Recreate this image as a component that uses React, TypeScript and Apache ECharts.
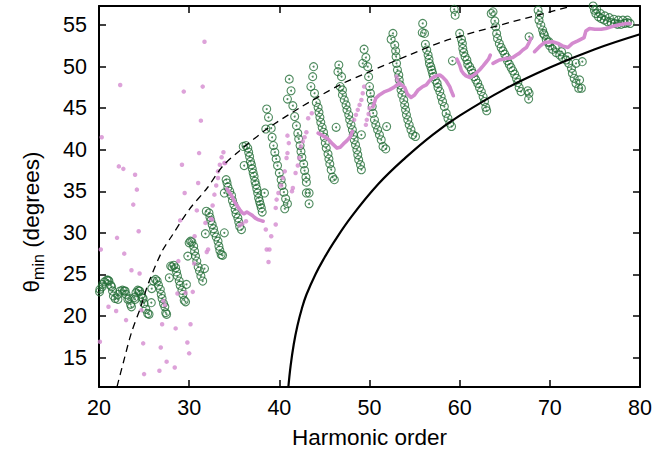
import { useEffect, useRef } from "react";
import * as echarts from "echarts";

const xTicks = [20, 30, 40, 50, 60, 70, 80];
const yTicks = [15, 20, 25, 30, 35, 40, 45, 50, 55];

// Green circles (strands)
const greenWave = [[20.06,22.9],[20.35,23.5],[20.6,24.1],[20.87,24.3],[21.1,24.2],[21.3,23.7],[21.5,23.0],[21.6,22.4],[21.8,22.1],[22.1,22.6],[22.35,23.0],[22.6,23.1],[22.8,23.0],[23.0,22.6],[23.2,22.0],[23.5,21.4],[23.6,21.1],[23.9,22.2],[24.1,22.8],[24.3,23.1],[24.5,23.0],[24.7,22.6],[24.9,22.1],[25.0,21.5],[25.2,20.8],[25.4,20.3],[20.1,23.2],[20.4,23.8],[21.0,24.3],[21.4,23.5],[22.1,22.0],[22.9,23.0],[23.35,22.1],[24.0,22.0],[24.45,23.0],[24.8,22.2],[25.55,20.2],[25.8,21.6]];
const greenS2 = [[25.85,23.3],[26.04,24.2],[26.27,24.4],[26.45,24.2],[26.6,23.7],[26.8,23.2],[26.9,22.6],[27.0,22.1],[27.15,21.5],[27.3,21.1],[27.4,20.4],[27.5,20.2],[27.8,24.6]];
const greenS3 = [[27.95,26.0],[28.1,25.9],[28.3,26.1],[28.5,25.8],[28.6,25.3],[28.7,24.8],[28.9,24.2],[29.0,23.7],[29.2,23.1],[29.3,22.6],[29.45,21.9],[29.6,21.7],[29.7,23.8]];
const greenS4 = [[29.85,27.2],[30.0,28.8],[30.15,29.0],[30.3,28.9],[30.5,28.4],[30.6,27.8],[30.7,27.2],[30.85,26.6],[31.0,25.9],[31.15,25.4],[31.3,24.8],[31.5,24.2],[31.7,25.7]];
const greenS5 = [[31.9,32.6],[32.2,32.4],[32.3,31.9],[32.4,31.5],[32.55,31.0],[32.7,30.5],[32.8,30.0],[33.0,29.5],[33.2,29.0],[33.3,28.4],[33.4,27.9],[33.55,27.4],[33.7,27.3],[31.8,29.9],[33.9,30.0]];
const greenS6 = [[34.1,36.4],[34.2,36.0],[34.3,35.5],[34.5,35.0],[34.7,34.5],[34.8,33.9],[34.95,33.4],[35.1,32.8],[35.2,32.3],[35.4,31.8],[35.5,31.3],[35.6,30.8],[35.8,30.4],[33.9,34.8]];
const greenS7 = [[36.0,40.4],[36.3,40.5],[36.5,40.2],[36.6,39.7],[36.7,39.2],[36.8,38.6],[36.9,38.2],[37.0,37.7],[37.1,37.2],[37.2,36.8],[37.3,36.2],[37.4,35.8],[37.5,35.3],[37.6,34.8],[37.7,34.2],[37.8,33.8],[37.9,33.4],[38.0,33.0],[38.1,32.5],[36.1,38.1],[38.35,34.8]];
const greenS8 = [[38.6,44.9],[38.8,43.9],[38.5,42.5],[39.1,42.6],[39.2,41.5],[39.35,40.5],[39.5,39.7],[39.65,38.9],[39.8,38.1],[40.0,37.2],[40.2,36.4],[40.3,35.7],[40.5,34.9],[40.7,34.1],[40.9,33.5],[40.6,32.9]];
const greenS9 = [[41.1,48.5],[41.3,47.1],[40.9,46.1],[41.5,45.3],[41.7,44.0],[41.9,42.9],[42.05,42.0],[42.15,41.3],[42.3,40.5],[42.4,39.8],[42.5,39.1],[42.7,38.3],[42.8,37.5],[42.95,36.7],[43.0,36.1],[43.0,34.8],[43.3,34.8],[43.3,33.5]];
const greenS10 = [[43.8,50.0],[43.7,48.8],[43.5,47.6],[43.9,46.8],[44.1,45.7],[44.3,45.1],[44.4,44.5],[44.5,43.9],[44.6,43.3],[44.75,42.7],[44.9,42.1],[45.0,41.5],[45.1,40.8],[45.2,40.2],[45.4,39.5],[45.5,38.9],[45.6,38.3],[45.75,37.6],[45.9,36.7],[46.1,36.4]];
const greenS11 = [[46.6,50.2],[46.5,49.4],[46.9,48.8],[46.75,47.6],[47.0,47.2],[47.0,46.6],[47.2,46.0],[47.4,45.4],[47.5,44.8],[47.7,44.2],[47.8,43.6],[47.95,43.0],[48.1,42.4],[48.2,41.8],[48.3,41.2],[48.45,40.6],[48.6,40.0],[48.7,39.4],[48.8,38.8],[49.0,38.2],[49.1,37.6],[46.3,42.7],[49.1,41.8]];
const greenS12 = [[49.4,52.1],[49.6,51.1],[49.25,50.4],[49.8,50.0],[49.9,48.8],[50.0,47.6],[50.1,46.8],[50.2,46.0],[50.3,45.2],[50.4,44.4],[50.55,43.6],[50.7,43.0],[50.9,42.4],[51.1,41.8],[51.3,41.2],[51.5,40.4],[51.8,40.1]];
const greenS13 = [[52.6,54.0],[52.4,53.3],[52.8,52.6],[52.9,51.9],[52.95,51.2],[53.0,50.4],[53.1,49.6],[53.25,49.0],[53.3,48.4],[53.4,47.8],[53.5,47.2],[53.6,46.6],[53.8,46.0],[53.9,45.4],[54.0,44.8],[54.1,44.2],[54.25,43.6],[54.4,43.0],[54.6,42.4],[54.8,41.8],[55.1,41.6],[51.9,42.8]];
const greenS14 = [[55.9,55.2],[55.85,54.1],[56.1,54.0],[56.2,52.7],[56.35,52.0],[56.5,51.4],[56.6,50.9],[56.65,50.4],[56.8,50.0],[56.9,49.6],[57.0,49.2],[57.1,48.8],[57.3,48.4],[57.5,48.0],[57.6,47.5],[57.8,47.0],[57.95,46.4],[58.1,45.8],[58.3,45.2],[58.5,44.4],[58.7,43.8],[58.9,43.2],[59.1,42.8]];
const greenS15 = [[59.4,56.9],[59.5,56.2],[60.0,54.0],[60.2,53.3],[60.3,52.8],[60.35,52.2],[60.45,51.7],[60.6,51.2],[60.8,50.8],[60.9,50.3],[61.1,50.0],[61.3,49.6],[61.45,49.2],[61.6,48.8],[61.8,48.4],[62.0,48.0],[62.2,47.5],[62.4,47.0],[62.6,46.4],[62.75,45.8],[62.9,45.1],[63.0,44.7],[59.2,50.7]];
const greenS16 = [[63.7,56.6],[63.5,56.4],[63.9,55.5],[64.0,54.8],[64.1,54.0],[64.2,53.4],[64.4,52.8],[64.6,52.3],[64.8,51.9],[65.0,51.5],[65.2,51.1],[65.3,50.7],[65.5,50.3],[65.7,49.9],[65.9,49.5],[66.1,49.1],[66.3,48.6],[66.45,48.1],[66.6,47.5],[66.8,47.0],[67.55,47.1],[67.7,46.8],[67.65,46.1],[67.7,53.6]];
const greenS17 = [[68.7,56.8],[68.85,56.2],[68.8,55.6],[69.0,55.0],[69.2,54.4],[69.4,53.8],[69.6,53.3],[69.8,52.9],[70.0,52.5],[70.3,52.1],[70.7,51.7],[71.1,51.4],[71.4,51.1],[71.8,50.8],[72.1,50.4],[72.4,49.8],[72.5,49.2],[72.7,48.6],[72.9,48.0],[73.3,48.4],[73.2,47.4],[73.5,47.4],[73.6,50.6],[72.9,50.4],[69.3,54.0],[69.9,53.0],[70.6,52.3],[71.3,51.8],[72.0,51.2]];
const greenS18 = [[74.8,57.3],[74.95,56.8],[75.1,56.4],[75.4,56.0],[75.7,55.8],[76.05,55.6],[76.4,55.4],[76.8,55.3],[77.2,55.2],[77.5,55.1],[77.9,55.1],[78.3,55.2],[78.6,55.3],[78.9,55.2],[75.2,56.9],[75.6,56.4],[76.1,56.1],[76.6,55.9],[77.1,55.7],[77.6,55.6],[78.1,55.6],[78.6,55.6]];

// Pink scattered dots
const pinkScatter = [[31.7,53.0],[22.35,47.8],[29.4,47.0],[31.5,47.6],[31.3,43.5],[20.3,41.5],[22.2,38.0],[22.7,37.7],[24.0,37.0],[24.2,35.2],[23.8,33.4],[24.4,30.2],[22.0,29.4],[22.8,27.5],[20.2,28.0],[29.2,38.2],[29.5,34.8],[29.0,31.5],[31.1,39.6],[31.0,36.0],[30.85,32.7],[30.6,29.6],[32.1,28.0],[31.95,27.7],[33.8,39.7],[33.6,39.1],[33.9,38.4],[33.4,38.2],[33.2,36.6],[33.0,35.7],[32.8,34.6],[32.6,33.3],[31.8,31.2],[32.4,31.7],[34.0,38.4],[33.2,37.4],[32.55,31.6],[23.6,25.5],[24.5,25.1],[21.05,21.1],[21.9,20.6],[23.0,19.5],[24.7,20.7],[20.1,16.9],[24.9,16.7],[25.0,13.0],[26.7,13.4],[27.5,14.5],[28.4,13.8],[26.85,16.2],[27.0,19.0],[28.5,18.5],[29.8,16.8],[30.0,15.5],[30.15,19.0],[28.8,26.6],[27.15,21.8],[27.3,21.3],[28.7,22.7],[29.6,22.8],[30.4,22.9],[30.55,26.3],[35.6,30.9],[35.9,31.1],[36.3,31.4],[38.6,28.0],[38.9,28.0],[38.8,26.5],[38.5,30.4],[39.1,29.6],[39.6,31.0],[39.6,33.0],[39.7,34.0],[39.9,34.8],[40.2,35.7],[40.4,36.6],[40.6,37.4],[40.8,39.0],[40.9,39.6],[41.05,40.8],[40.9,41.7],[41.4,35.0],[41.5,35.4],[41.8,37.2],[42.05,38.1],[42.2,39.0],[42.4,40.4],[42.6,41.0],[42.8,41.5],[43.0,42.1],[43.6,44.4],[43.2,43.8],[48.3,43.6],[48.5,44.2],[48.7,44.8],[48.9,45.4],[49.1,46.0],[49.25,46.8],[49.4,47.6],[49.6,43.0],[49.7,43.6],[49.9,44.3],[50.0,45.0],[53.0,48.8],[53.1,48.4]];

// Pink dense segments
const pinkSeg1 = [[34.2,35.3],[34.5,34.8],[34.8,34.3],[35.0,33.8],[35.3,33.3],[35.6,32.8],[35.9,32.4],[36.1,32.3],[36.4,32.5],[36.7,32.3],[37.0,32.1],[37.3,31.8],[37.6,31.6],[37.9,31.5],[38.2,31.4]];
const pinkSeg2 = [[44.3,42.0],[44.8,41.7],[45.4,41.3],[45.9,40.7],[46.4,40.2],[46.75,40.3],[47.1,40.7],[47.5,41.1],[47.9,41.6],[48.1,42.2]];
const pinkSeg3 = [[50.4,45.2],[50.7,46.2],[51.1,46.6],[51.7,47.0],[52.2,47.2],[52.7,47.5],[53.3,48.0],[53.9,47.5],[54.2,46.7],[54.6,46.3],[55.0,46.6],[55.4,47.2],[55.9,47.6],[56.3,47.8],[56.65,48.3],[57.0,48.65],[57.4,48.9],[57.8,49.0],[58.1,48.75],[58.5,48.3],[58.9,47.6],[59.1,47.0],[59.3,46.5]];
const pinkSeg4 = [[59.7,50.9],[60.0,50.2],[60.2,49.5],[60.4,49.2],[60.7,48.9],[61.1,48.7],[61.45,48.9],[61.8,49.2],[62.2,49.6],[62.6,50.1],[62.9,50.5],[63.2,50.9],[63.4,51.4]];
const pinkSeg5 = [[63.7,50.4],[64.05,50.6],[64.4,50.8],[64.8,50.9],[65.2,51.0],[65.5,51.0],[65.9,51.1],[66.3,51.4],[66.6,51.6],[67.0,52.0],[67.4,52.3],[67.7,52.9],[67.9,53.4]];
const pinkSeg6 = [[68.3,51.8],[68.85,52.4],[69.4,52.9],[70.3,53.0],[70.9,52.8],[71.4,52.5],[72.0,52.3],[72.5,52.8],[73.1,53.1],[73.8,53.5],[74.0,54.3],[74.4,54.6],[75.0,54.5],[75.7,54.5],[76.2,54.6],[77.0,54.85],[77.7,55.05],[78.5,55.2],[78.9,55.2]];

// Theory curves
const dashedCurve = [[22.0,11.5],[22.7,14.4],[23.6,18.0],[24.6,21.0],[25.5,24.0],[27.0,27.8],[28.0,29.5],[30.0,32.8],[32.0,35.4],[33.7,38.0],[35.5,39.8],[38.5,42.4],[42.2,45.0],[46.7,47.8],[50.0,49.4],[54.4,51.4],[58.1,53.0],[61.8,54.2],[65.5,55.3],[69.0,56.3],[72.5,57.3]];
const solidCurve = [[41.0,11.45],[41.25,14.0],[41.6,16.6],[42.0,18.8],[42.5,20.9],[43.0,22.55],[44.0,25.0],[45.0,27.0],[46.0,28.8],[48.0,31.95],[51.0,35.9],[54.0,39.05],[57.0,41.8],[60.0,44.1],[65.0,47.3],[70.0,49.9],[75.0,52.1],[80.0,53.9]];

const greenPoints = [...greenWave, ...greenS2, ...greenS3, ...greenS4, ...greenS5, ...greenS6, ...greenS7, ...greenS8, ...greenS9, ...greenS10, ...greenS11, ...greenS12, ...greenS13, ...greenS14, ...greenS15, ...greenS16, ...greenS17, ...greenS18];
const pinkSegments = [pinkSeg1, pinkSeg2, pinkSeg3, pinkSeg4, pinkSeg5, pinkSeg6];

const GREEN = "#236e37";
const PINK = "#d48bcf";
const FONT = "Liberation Sans";
const FS = 21.5;
const FS_NAME = 22.5;

export default function App() {
  const ref = useRef<HTMLDivElement>(null);
  useEffect(() => {
    const chart = echarts.init(ref.current!, null, { renderer: "svg" });
    const axisLine = { show: true, onZero: false, lineStyle: { color: "#000", width: 2 } };
    const tick = { show: true, inside: true, length: 7, lineStyle: { color: "#000", width: 1.5 } };
    const yMin = 11.45, yMax = 57.3;
    chart.setOption({
      animation: false,
      backgroundColor: "#fff",
      grid: { left: 99, right: 16, top: 6, bottom: 72, containLabel: false },
      xAxis: [
        {
          type: "value", position: "bottom", min: 20, max: 80, interval: 10,
          axisLine, axisTick: tick, splitLine: { show: false },
          axisLabel: { color: "#000", fontSize: FS, fontFamily: FONT, margin: 10, customValues: xTicks },
          name: "Harmonic order", nameLocation: "middle", nameGap: 39,
          nameTextStyle: { color: "#000", fontSize: FS_NAME, fontFamily: FONT },
        },
        {
          type: "value", position: "top", min: 20, max: 80, interval: 10,
          axisLine, axisTick: tick, splitLine: { show: false }, axisLabel: { show: false },
        },
      ],
      yAxis: [
        {
          type: "value", position: "left", min: yMin, max: yMax,
          axisLine, axisTick: { ...tick, customValues: yTicks }, splitLine: { show: false },
          axisLabel: { color: "#000", fontSize: FS, fontFamily: FONT, margin: 12, customValues: yTicks },
        },
        {
          type: "value", position: "right", min: yMin, max: yMax,
          axisLine, axisTick: { ...tick, customValues: yTicks }, splitLine: { show: false },
          axisLabel: { show: false, customValues: yTicks },
        },
      ],
      graphic: [
        {
          type: "text", x: 31, y: 222, rotation: Math.PI / 2,
          style: {
            text: "{a|θ}{b|min}{a| (degrees)}",
            align: "center", verticalAlign: "middle", fill: "#000",
            rich: {
              a: { fontSize: FS_NAME, fontFamily: FONT, lineHeight: 30, fill: "#000" },
              b: { fontSize: 16, fontFamily: FONT, lineHeight: 16, verticalAlign: "bottom", fill: "#000" },
            },
          },
        },
      ],
      series: [
        {
          type: "scatter", data: greenPoints, symbol: "circle", symbolSize: 8, silent: true,
          itemStyle: { color: "rgba(0,0,0,0)", borderColor: GREEN, borderWidth: 1.1 },
        },
        {
          type: "scatter", data: greenPoints, symbol: "circle", symbolSize: 2, silent: true,
          itemStyle: { color: GREEN },
        },
        ...pinkSegments.map((seg) => ({
          type: "line", data: seg, showSymbol: false, symbol: "none", silent: true,
          lineStyle: { color: PINK, width: 3.6, cap: "round", join: "round" },
        })),
        {
          type: "scatter", data: pinkScatter, symbol: "circle", symbolSize: 4.5, silent: true,
          itemStyle: { color: PINK },
        },
        {
          type: "line", data: dashedCurve, smooth: 0.3, symbol: "none", silent: true,
          lineStyle: { color: "#000", width: 1.3, type: [7, 5] },
        },
        {
          type: "line", data: solidCurve, smooth: 0.4, symbol: "none", silent: true,
          lineStyle: { color: "#000", width: 2.2 },
        },
      ],
    });
    return () => chart.dispose();
  }, []);
  return (
    <div
      ref={ref}
      style={{ position: "fixed", left: 0, top: 0, width: 656, height: 459, background: "#fff" }}
    />
  );
}
